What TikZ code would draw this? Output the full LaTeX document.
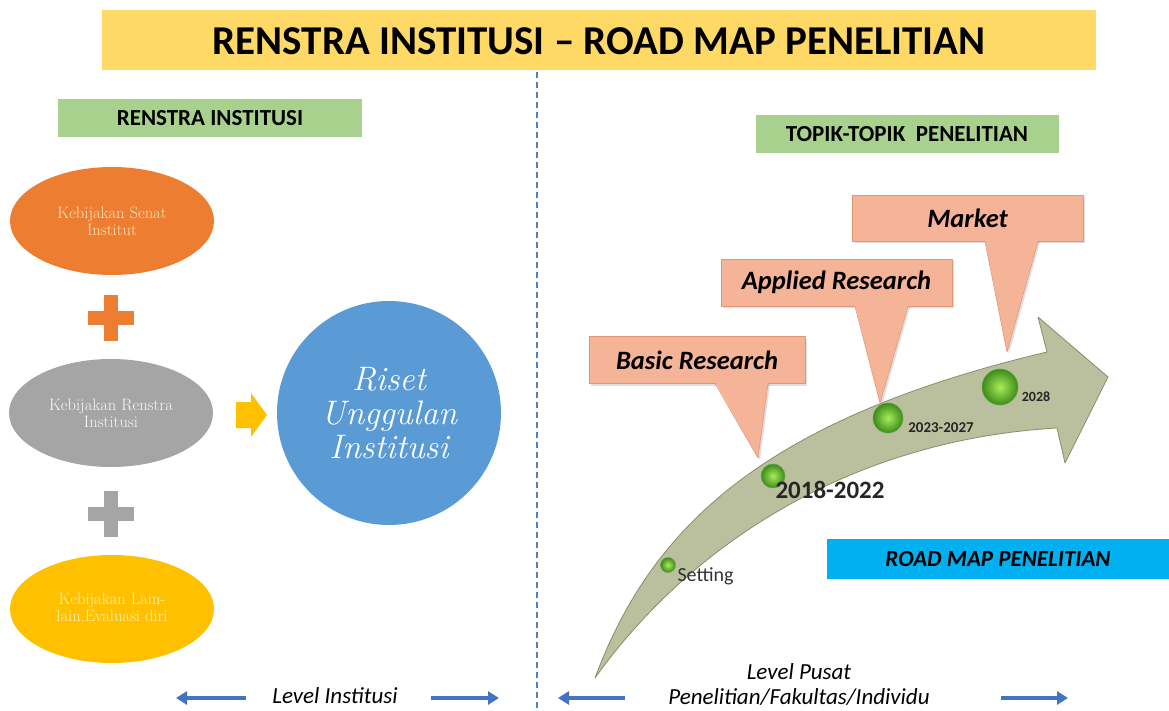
\documentclass[tikz,border=0pt]{standalone}
\usepackage{fontspec}
\newfontfamily\calibri{Carlito}
\usetikzlibrary{arrows.meta, calc, shapes.geometric, shadows}

\definecolor{titleyellow}{RGB}{255,217,102}
\definecolor{boxgreen}{RGB}{169,209,142}
\definecolor{boxcyan}{RGB}{0,176,240}
\definecolor{senatorange}{RGB}{237,125,49}
\definecolor{renstragray}{RGB}{165,165,165}
\definecolor{lainyellow}{RGB}{255,192,0}
\definecolor{risetblue}{RGB}{91,155,213}
\definecolor{senattext}{RGB}{252,228,180}
\definecolor{laintext}{RGB}{255,242,190}
\definecolor{calloutfill}{RGB}{245,180,152}
\definecolor{calloutedge}{RGB}{226,150,118}
\definecolor{roadfill}{RGB}{186,191,158}
\definecolor{roadedge}{RGB}{135,143,105}
\definecolor{levelblue}{RGB}{68,114,196}
\definecolor{dividerblue}{RGB}{79,129,189}
\definecolor{milestonelight}{RGB}{170,235,90}
\definecolor{milestonedark}{RGB}{60,140,25}

\begin{document}
\begin{tikzpicture}[x=1pt, y=-1pt, line join=round,
    policy/.style={ellipse, minimum width=204pt, minimum height=108pt, inner sep=0pt, align=center, font=\fontsize{16.5}{17}\selectfont},
    headbox/.style={fill=boxgreen, minimum height=38pt, font=\calibri\bfseries\fontsize{23}{26}\selectfont},
    callout/.style={fill=calloutfill, draw=calloutedge, line width=0.6pt, minimum height=47pt, font=\calibri\bfseries\itshape\fontsize{26.5}{30}\selectfont, drop shadow={opacity=0.25, shadow xshift=2pt, shadow yshift=-2pt}},
    pointer/.style={fill=calloutfill, drop shadow={opacity=0.25, shadow xshift=2pt, shadow yshift=-2pt}},
    milestone/.style={circle, inner sep=0pt, draw=milestonedark!80, line width=0.5pt, shade, shading=radial, inner color=milestonelight, outer color=milestonedark},
    yearlabel/.style={font=\calibri\bfseries, text=black!85},
    levelarrow/.style={draw=levelblue, line width=4pt, -{Triangle[length=11pt, width=13pt]}},
    levellabel/.style={font=\calibri\itshape\fontsize{23}{25}\selectfont, align=center}
]
\useasboundingbox (0,0) rectangle (1169,711);

% Title bar
\fill[titleyellow] (102,10) rectangle (1096,70);
\node[font=\calibri\bfseries\fontsize{41}{44}\selectfont] (title) at (599,41) {RENSTRA INSTITUSI – ROAD MAP PENELITIAN};

% Divider
\draw[dividerblue, line width=2pt, dash pattern=on 6pt off 4pt] (537,72) -- (537,711);

% Left: renstra institusi
\node[headbox, minimum width=304pt] (renstrahead) at (210,118) {RENSTRA INSTITUSI};
\node[policy, fill=senatorange, text=senattext] (senat) at (112,221) {Kebijakan Senat\\Institut};
\node[policy, fill=renstragray, text=white!94!gray] (renstra) at (111,413) {Kebijakan Renstra\\Institusi};
\node[policy, fill=lainyellow, text=laintext] (lain) at (112,609) {Kebijakan Lain-\\lain,Evaluasi diri};

% plus signs
\foreach \y/\c in {318/senatorange, 514/renstragray} {
    \fill[\c] (104,\y-23) rectangle (118,\y+23);
    \fill[\c] (88,\y-7) rectangle (134,\y+7);
}

% block arrow to the circle
\fill[lainyellow] (236,402) -- (251,402) -- (251,393) -- (267,415) -- (251,437) -- (251,428) -- (236,428) -- cycle;
\node[circle, fill=risetblue, minimum size=224pt, text=white, align=center, font=\itshape\fontsize{34}{34}\selectfont] (riset) at (389,413) {Riset\\Unggulan\\Institusi};

% Level institusi
\node[levellabel] (lvlinst) at (335,696) {Level Institusi};
\draw[levelarrow] (246,698) -- (176,698);
\draw[levelarrow] (431,698) -- (499,698);

% Right: road map
\node[headbox, minimum width=303pt] (topikhead) at (907,134) {TOPIK-TOPIK\ \ PENELITIAN};

\filldraw[fill=roadfill, draw=roadedge, line width=0.8pt] (595,678) .. controls (650,530) and (760,420) .. (1047,352)
    -- (1038,317) -- (1108,377) -- (1065,463) -- (1057,428) .. controls (850,440) and (690,545) .. (595,678) -- cycle;

% Callouts
\node[callout, minimum width=216pt] (basic) at (697,360) {Basic Research};
\fill[pointer] (715,382) -- (758,458) -- (768,382) -- cycle;
\draw[calloutedge, line width=0.6pt] (715,383.5) -- (758,458) -- (768,383.5);

\node[callout, minimum width=231pt] (applied) at (836.5,282.5) {Applied Research};
\fill[pointer] (855,305) -- (880,403) -- (908,305) -- cycle;
\draw[calloutedge, line width=0.6pt] (855,306.5) -- (880,403) -- (908,306.5);

\node[callout, minimum width=231pt, minimum height=46pt] (market) at (967.5,218) {Market};
\fill[pointer] (985,240) -- (1007,352) -- (1038,240) -- cycle;
\draw[calloutedge, line width=0.6pt] (985,241.5) -- (1007,352) -- (1038,241.5);

% Milestones
\node[milestone, minimum size=15pt] (msetting) at (668,565) {};
\node[milestone, minimum size=24pt] (m2018) at (773,476) {};
\node[milestone, minimum size=30pt] (m2023) at (888,418) {};
\node[milestone, minimum size=36pt] (m2028) at (1000,387) {};

\node[font=\calibri\fontsize{20}{24}\selectfont, text=black!80, anchor=west] (lsetting) at (674,576) {Setting};
\node[yearlabel, font=\calibri\bfseries\fontsize{25}{28}\selectfont] (l2018) at (830,490) {2018-2022};
\node[yearlabel, font=\calibri\bfseries\fontsize{15}{18}\selectfont] (l2023) at (941,428) {2023-2027};
\node[yearlabel, font=\calibri\bfseries\fontsize{14}{16}\selectfont] (l2028) at (1036,397) {2028};

\node[fill=boxcyan, minimum width=342pt, minimum height=40pt, font=\calibri\bfseries\itshape\fontsize{23}{26}\selectfont] (roadmap) at (998,559) {ROAD MAP PENELITIAN};

% Level pusat
\node[levellabel] (lvlpusat) at (799,684.5) {Level Pusat\\Penelitian/Fakultas/Individu};
\draw[levelarrow] (625,698) -- (558,698);
\draw[levelarrow] (1001,698) -- (1068,698);
\end{tikzpicture}
\end{document}
